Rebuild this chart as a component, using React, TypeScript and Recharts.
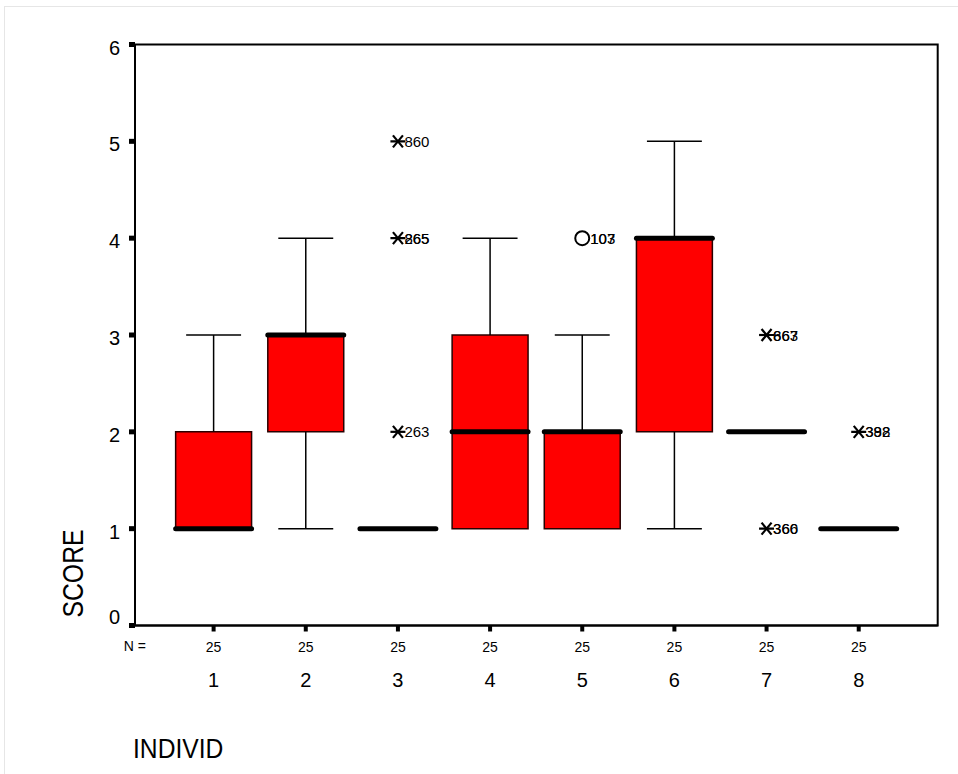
import React from 'react';
import {
  ComposedChart,
  XAxis,
  YAxis,
  Scatter,
  ReferenceArea,
  ReferenceLine,
  Customized,
} from 'recharts';

// ---- data ----
const categories = ['1', '2', '3', '4', '5', '6', '7', '8'];
const nCounts = [25, 25, 25, 25, 25, 25, 25, 25];
const whiskerLow = [1, 1, 1, 1, 1, 1, 2, 1];
const q1 = [1, 2, 1, 1, 1, 2, 2, 1];
const median = [1, 3, 1, 2, 2, 4, 2, 1];
const q3 = [2, 3, 1, 3, 2, 4, 2, 1];
const whiskerHigh = [3, 4, 1, 4, 3, 5, 2, 1];

const extremeGroup = [3, 3, 3, 7, 7, 8];
const extremeValue = [5, 4, 2, 3, 1, 2];
const extremeLabels = [['860'], ['865', '265'], ['263'], ['867', '663'], ['360', '366'], ['398', '382']];

const mildGroup = [5];
const mildValue = [4];
const mildLabels = [['107', '103']];

const yTicks = [0, 1, 2, 3, 4, 5, 6];

const extremeData = extremeGroup.map((g, i) => ({ x: g, y: extremeValue[i], labels: extremeLabels[i] }));
const mildData = mildGroup.map((g, i) => ({ x: g, y: mildValue[i], labels: mildLabels[i] }));

const FONT = '"Liberation Sans", Arial, sans-serif';
const BOX_HALF = 0.412;
const CAP_HALF = 0.298;
const X_DOMAIN: [number, number] = [0.147, 8.857];

const AsteriskShape = (props: any) => {
  const { cx, cy, payload } = props;
  return (
    <g>
      <line x1={cx - 7.5} y1={cy} x2={cx + 7.5} y2={cy} stroke="#000" strokeWidth={2.2} />
      <line x1={cx - 5} y1={cy - 6} x2={cx + 5} y2={cy + 6} stroke="#000" strokeWidth={2.2} />
      <line x1={cx - 5} y1={cy + 6} x2={cx + 5} y2={cy - 6} stroke="#000" strokeWidth={2.2} />
      {payload.labels.map((l: string, k: number) => (
        <text key={k} x={cx + 6.5} y={cy + 5.5} fontSize={15} fontFamily={FONT} fill="#000">
          {l}
        </text>
      ))}
    </g>
  );
};

const CircleShape = (props: any) => {
  const { cx, cy, payload } = props;
  return (
    <g>
      <circle cx={cx} cy={cy} r={7} fill="none" stroke="#000" strokeWidth={2} />
      {payload.labels.map((l: string, k: number) => (
        <text key={k} x={cx + 8} y={cy + 5.5} fontSize={15} fontFamily={FONT} fill="#000">
          {l}
        </text>
      ))}
    </g>
  );
};

const YTick = (props: any) => {
  const { x, y, payload } = props;
  const dy = payload.value === 0 ? -1.5 : 10;
  return (
    <text x={x} y={y + dy} textAnchor="end" fontSize={20} fontFamily={FONT} fill="#000">
      {payload.value}
    </text>
  );
};

const XTick = (props: any) => {
  const { x, payload } = props;
  const idx = Math.round(payload.value) - 1;
  return (
    <g>
      <text x={x} y={651.5} textAnchor="middle" fontSize={14} fontFamily={FONT} fill="#000">
        {nCounts[idx]}
      </text>
      <text x={x} y={686.5} textAnchor="middle" fontSize={20} fontFamily={FONT} fill="#000">
        {categories[idx]}
      </text>
    </g>
  );
};

const Decor = () => (
  <g>
    <rect x={4.5} y={6.5} width={1200} height={1200} fill="none" stroke="#e6e6e6" strokeWidth={1} />
    <text x={146} y={651} textAnchor="end" fontSize={14} fontFamily={FONT} fill="#000">
      N =
    </text>
    <text
      transform="translate(83,573.5) rotate(-90) scale(0.84,1)"
      textAnchor="middle"
      fontSize={29.5}
      fontFamily={FONT}
      fill="#000"
    >
      SCORE
    </text>
    <text transform="translate(133,758.3) scale(0.88,1)" fontSize={28} fontFamily={FONT} fill="#000">
      INDIVID
    </text>
  </g>
);

export default function App() {
  return (
    <div style={{ position: 'absolute', left: 0, top: 0, background: '#fff' }}>
      <ComposedChart
        width={958}
        height={774}
        margin={{ top: 44.5, right: 20.3, bottom: 88.5, left: 75 }}
      >
        <XAxis
          type="number"
          dataKey="x"
          domain={X_DOMAIN}
          ticks={[1, 2, 3, 4, 5, 6, 7, 8]}
          allowDataOverflow
          height={60}
          tickSize={6}
          tickMargin={2}
          tickLine={{ stroke: '#000', strokeWidth: 4 }}
          axisLine={{ stroke: '#000', strokeWidth: 2 }}
          tick={<XTick />}
          interval={0}
        />
        <YAxis
          type="number"
          dataKey="y"
          domain={[0, 6]}
          ticks={yTicks}
          allowDataOverflow
          width={60}
          tickSize={6}
          tickMargin={9}
          tickLine={{ stroke: '#000', strokeWidth: 5 }}
          axisLine={{ stroke: '#000', strokeWidth: 2 }}
          tick={<YTick />}
          interval={0}
        />
        <ReferenceArea
          x1={X_DOMAIN[0]}
          x2={X_DOMAIN[1]}
          y1={0}
          y2={6}
          fill="none"
          fillOpacity={0}
          stroke="#000"
          strokeWidth={2}
          ifOverflow="visible"
        />
        {categories.map((c, i) =>
          q1[i] !== q3[i] ? (
            <ReferenceArea
              key={'box' + c}
              x1={i + 1 - BOX_HALF}
              x2={i + 1 + BOX_HALF}
              y1={q1[i]}
              y2={q3[i]}
              fill="#ff0000"
              fillOpacity={1}
              stroke="#2a0000"
              strokeWidth={1.5}
              ifOverflow="visible"
            />
          ) : null
        )}
        {categories.map((c, i) =>
          whiskerHigh[i] > q3[i] ? (
            <ReferenceLine
              key={'wh' + c}
              segment={[
                { x: i + 1, y: q3[i] },
                { x: i + 1, y: whiskerHigh[i] },
              ]}
              stroke="#000"
              strokeWidth={1.5}
              ifOverflow="visible"
            />
          ) : null
        )}
        {categories.map((c, i) =>
          whiskerHigh[i] > q3[i] ? (
            <ReferenceLine
              key={'whc' + c}
              segment={[
                { x: i + 1 - CAP_HALF, y: whiskerHigh[i] },
                { x: i + 1 + CAP_HALF, y: whiskerHigh[i] },
              ]}
              stroke="#000"
              strokeWidth={1.5}
              ifOverflow="visible"
            />
          ) : null
        )}
        {categories.map((c, i) =>
          whiskerLow[i] < q1[i] ? (
            <ReferenceLine
              key={'wl' + c}
              segment={[
                { x: i + 1, y: whiskerLow[i] },
                { x: i + 1, y: q1[i] },
              ]}
              stroke="#000"
              strokeWidth={1.5}
              ifOverflow="visible"
            />
          ) : null
        )}
        {categories.map((c, i) =>
          whiskerLow[i] < q1[i] ? (
            <ReferenceLine
              key={'wlc' + c}
              segment={[
                { x: i + 1 - CAP_HALF, y: whiskerLow[i] },
                { x: i + 1 + CAP_HALF, y: whiskerLow[i] },
              ]}
              stroke="#000"
              strokeWidth={1.5}
              ifOverflow="visible"
            />
          ) : null
        )}
        {categories.map((c, i) => (
          <ReferenceLine
            key={'med' + c}
            segment={[
              { x: i + 1 - BOX_HALF, y: median[i] },
              { x: i + 1 + BOX_HALF, y: median[i] },
            ]}
            stroke="#000"
            strokeWidth={5}
            strokeLinecap="round"
            ifOverflow="visible"
          />
        ))}
        <Scatter data={extremeData} dataKey="y" shape={<AsteriskShape />} isAnimationActive={false} />
        <Scatter data={mildData} dataKey="y" shape={<CircleShape />} isAnimationActive={false} />
        <Customized component={Decor} />
      </ComposedChart>
    </div>
  );
}
